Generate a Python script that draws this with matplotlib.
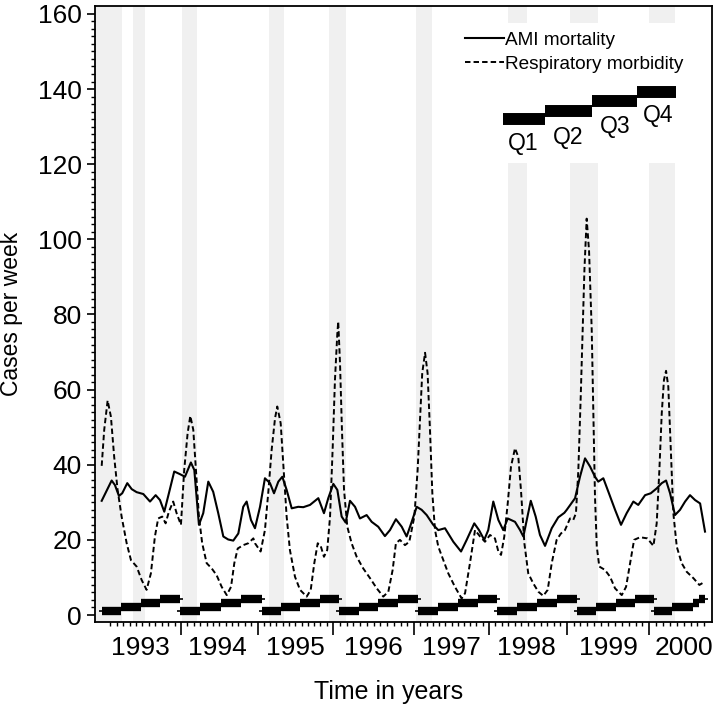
import matplotlib
matplotlib.use('Agg')
import matplotlib.pyplot as plt
from matplotlib.patches import Rectangle
from matplotlib.transforms import blended_transform_factory
import numpy as np

plt.rcParams['font.family'] = ['Liberation Sans', 'DejaVu Sans']

# ---------------- data (x = week index from start of 1993) ----------------
ami_week = [0.5, 7.2, 9.4, 12.1, 14.3, 17.7, 20.7, 24.0, 28.5, 33.0, 36.8, 39.7, 42.6, 45.7,
            49.3, 53.1, 56.5, 60.5, 62.8, 65.9, 68.8, 72.2, 75.5, 78.9, 82.3, 85.6, 89.0,
            92.4, 95.7, 98.0, 100.9, 103.6, 107.0, 110.3, 113.7, 116.4, 119.3, 122.0,
            124.9, 128.3, 132.7, 136.1, 140.6, 146.2, 150.0, 152.9, 156.3, 159.0, 161.9,
            164.6, 167.5, 170.9, 174.2, 178.7, 182.1, 186.5, 191.0, 194.4, 198.4, 202.3,
            205.6, 207.9, 212.4, 215.7, 219.1, 223.5, 226.9, 231.4, 237.0, 242.2, 246.0,
            251.1, 254.3, 257.8, 260.5, 263.9, 267.3, 270.6, 273.6, 278.5, 281.9, 284.1,
            289.1, 292.4, 295.3, 298.7, 303.2, 307.6, 311.7, 313.3, 318.9, 322.2, 325.6,
            329.0, 332.3, 334.5, 337.9, 341.3, 345.8, 349.8, 353.6, 358.1, 361.4, 366.0,
            369.8, 373.8, 377.2, 380.1, 382.8, 386.1, 389.5, 392.9, 396.2, 399.6, 403.0,
            406.3]
ami_cases = [30.4, 35.8, 34.6, 31.7, 32.4, 35.1, 33.5, 32.7, 32.2, 30.2, 31.9, 30.6, 27.5, 32.4,
             38.2, 37.5, 36.8, 40.6, 38.6, 24.0, 27.1, 35.5, 32.8, 27.1, 20.9, 20.1, 19.8,
             21.7, 28.8, 30.2, 25.3, 23.1, 28.8, 36.4, 35.1, 32.4, 35.5, 36.8,
             33.3, 28.4, 28.8, 28.7, 29.3, 31.1, 27.1, 31.1, 34.9, 33.3, 26.2,
             24.6, 30.4, 28.8, 25.7, 26.6, 24.8, 23.5, 21.0, 22.6, 25.5, 23.5,
             20.9, 23.5, 28.8, 28.0, 26.6, 24.0, 22.6, 23.1, 19.5, 16.9, 20.0,
             24.4, 22.6, 20.0, 22.6, 30.2, 25.3, 22.6, 25.7, 24.8, 22.6, 20.9,
             30.4, 26.2, 21.3, 18.4, 23.1, 26.0, 27.2, 28.0, 31.1, 36.8, 41.7,
             39.5, 36.8, 35.5, 36.4, 32.8, 28.0, 24.0, 27.1, 30.2, 29.3, 31.9,
             32.4, 33.7, 35.1, 35.8, 32.4, 26.6, 28.0, 30.2, 31.9, 30.6, 29.7,
             22.2]

resp_week = [0.5, 2.2, 4.5, 6.7, 8.9, 11.2, 13.9, 17.3, 20.2, 24.0, 27.4, 30.7, 33.6, 36.3,
             38.5, 41.2, 43.5, 45.7, 48.6, 50.9, 53.8, 56.0, 58.3, 60.1, 62.1, 63.9, 65.9,
             68.1, 71.1, 74.5, 77.8, 81.2, 84.6, 87.5, 89.7, 92.0, 95.7, 99.1, 102.5, 103.6,
             107.4, 110.3, 112.5, 114.8, 117.1, 118.6, 120.9, 122.6, 124.9, 127.1, 130.5,
             133.9, 138.4, 141.1, 143.5, 145.8, 147.8, 150.0, 152.2, 154.1, 155.9, 157.4,
             159.0, 159.6, 160.8, 162.1, 163.5, 165.7, 168.6, 172.0, 176.4, 181.0, 185.5,
             189.9, 193.3, 196.2, 198.4, 201.1, 204.5, 207.4, 210.8, 213.0, 214.6, 216.1,
             218.0, 219.7, 221.3, 222.9, 224.7, 226.9, 230.3, 233.6, 238.1, 242.6, 244.9,
             248.2, 251.6, 255.0, 258.3, 261.7, 265.0, 267.3, 269.1, 271.3, 273.6, 275.8,
             278.5, 280.7, 282.5, 284.8, 287.4, 290.8, 294.2, 297.5, 300.5, 303.2, 306.5,
             309.4, 312.1, 315.5, 317.7, 319.5, 321.1, 322.7, 324.0, 325.2, 326.7, 328.3,
             330.1, 331.2, 332.3, 333.5, 335.2, 339.0, 342.4, 345.8, 350.3, 353.2, 355.9,
             358.6, 362.6, 367.5, 371.6, 373.8, 375.6, 377.2, 378.7, 380.1, 381.6, 383.2,
             385.0, 387.3, 390.6, 394.0, 398.5, 402.5, 406.3]
resp_cases = [39.7, 49.3, 57.1, 52.8, 42.1, 33.3, 26.2, 19.1, 14.6, 12.9, 9.3, 6.7, 11.1, 20.9,
              25.7, 26.2, 24.4, 27.5, 30.2, 27.1, 24.0, 38.6, 48.4, 53.0, 49.3, 38.6, 26.2,
              19.1, 13.8, 12.4, 10.6, 7.5, 5.3, 7.5, 13.8, 17.7, 18.6, 19.1, 20.4, 19.1,
              16.9, 22.6, 32.4, 43.9, 52.4, 55.5, 51.0, 40.4, 26.2, 17.3, 10.2,
              6.7, 4.9, 6.7, 13.8, 19.1, 18.4, 15.5, 17.3, 26.2, 44.8, 62.6,
              75.0, 78.1, 67.0, 49.3, 33.3, 23.5, 19.1, 15.5, 12.4, 9.8, 7.1,
              4.9, 6.2, 12.0, 19.1, 20.0, 18.6, 19.5, 26.2, 38.6, 51.9, 64.4,
              69.8, 64.4, 49.3, 32.4, 22.6, 18.2, 14.6, 11.1, 7.5, 4.4, 5.8,
              13.8, 22.6, 20.9, 19.5, 21.3, 20.4, 16.9, 16.0, 20.9, 29.7, 39.5,
              44.4, 42.1, 33.3, 19.1, 11.1, 8.4, 6.2, 5.1, 6.7, 13.8, 20.0,
              21.7, 22.6, 25.7, 25.3, 27.1, 38.6, 58.1, 75.9, 92.0, 105.5, 97.0,
              75.9, 53.7, 31.5, 18.2, 12.9, 12.0, 10.2, 7.1, 5.3, 7.5, 13.8,
              20.0, 20.7, 20.4, 18.4, 24.4, 38.6, 53.7, 62.6, 65.0, 60.8, 44.8,
              27.1, 18.2, 13.8, 11.5, 9.8, 8.0, 8.9]

# shaded periods (week index)
band_start = [-4.0, 21.5, 54.5, 113.0, 153.4, 211.9, 273.8, 315.5, 368.6]
band_end = [14.1, 29.6, 64.6, 123.1, 164.8, 222.7, 286.6, 334.5, 386.1]

# year axis
year_boundaries = [53.8, 105.4, 156.1, 210.6, 261.0, 313.3, 368.8]
year_label_pos = [26.2, 78.4, 130.5, 183.0, 235.9, 286.4, 341.1, 392.2]
year_labels = ['1993', '1994', '1995', '1996', '1997', '1998', '1999', '2000']

# quarter indicator bars
quarter_levels = [1.0, 2.1, 3.2, 4.3]
group_edges = [0.5, 53.1, 108.3, 160.1, 213.2, 266.7, 320.2, 372.0]
last_group_edges = [372.0, 384.1, 398.3, 402.5, 406.3]

# quarter key
key_edges = [270.4, 299.0, 330.3, 360.6, 386.8]
key_levels = [132.0, 134.2, 136.8, 139.2]
key_labels = ['Q1', 'Q2', 'Q3', 'Q4']
key_label_x = [283.9, 314.2, 345.8, 374.7]
key_label_y = [125.6, 127.0, 130.0, 133.0]

# ---------------- figure ----------------
fig = plt.figure(figsize=(7.2, 7.06), dpi=100)
ax = fig.add_axes([95/720, 1 - 622/706, 617/720, 616/706])

ax.set_xlim(-4.0, 411.0)
ax.set_ylim(-1.86, 162.1)

for s, e in zip(band_start, band_end):
    ax.axvspan(s, e, color='#f0f0f0', lw=0, zorder=0)

# white box behind the quarter key
ax.add_patch(Rectangle((262, 120.3), 143, 22.1, facecolor='white', edgecolor='none', zorder=1))

ax.plot(ami_week, ami_cases, color='black', lw=1.5, zorder=3, label='AMI mortality')
ax.plot(resp_week, resp_cases, color='black', lw=1.4, ls=(0, (2.8, 1.6)), zorder=3,
        label='Respiratory morbidity')

# quarter bars at the bottom
for i in range(len(group_edges)):
    if i < len(group_edges) - 1:
        edges = np.linspace(group_edges[i], group_edges[i + 1], 5)
    else:
        edges = np.array(last_group_edges)
    lc = ax.hlines(quarter_levels, edges[:-1], edges[1:], colors='black', lw=6.0, zorder=4)
    lc.set_capstyle('butt')
    ax.hlines([quarter_levels[0]], edges[0] - 2, edges[0], colors='black', lw=1.2, zorder=4)
    ax.hlines([quarter_levels[-1]], edges[-1], edges[-1] + 2, colors='black', lw=1.2, zorder=4)

# quarter key
lc = ax.hlines(key_levels, key_edges[:-1], key_edges[1:], colors='black', lw=8.6, zorder=4)
lc.set_capstyle('butt')
for x, y, t in zip(key_label_x, key_label_y, key_labels):
    ax.text(x, y, t, fontsize=16.5, ha='center', va='center', zorder=5)

# legend
leg = ax.legend(loc='upper left', bbox_to_anchor=(0.585, 0.973), fontsize=13.7,
                frameon=True, fancybox=False, edgecolor='none', facecolor='white',
                framealpha=1, borderpad=0.45, borderaxespad=0, labelspacing=0.38,
                handlelength=2.05, handletextpad=0.1)

# y axis
ax.set_yticks(np.arange(0, 161, 20))
ax.set_yticks(np.arange(0, 162, 2), minor=True)
ax.tick_params(axis='y', which='major', length=6, width=1.2, labelsize=19, pad=3.5)
ax.tick_params(axis='y', which='minor', length=3, width=1.0)

# x axis
ax.set_xticks(year_boundaries)
ax.set_xticklabels([])
full_bounds = [2.0] + year_boundaries + [424.3]
minor = []
for a, b in zip(full_bounds[:-1], full_bounds[1:]):
    minor.extend(np.linspace(a, b, 13)[1:-1])
minor = [m for m in minor if m < 410]
ax.set_xticks(minor, minor=True)
ax.tick_params(axis='x', which='major', length=9, width=1.2)
ax.tick_params(axis='x', which='minor', length=3, width=1.0)

trans = blended_transform_factory(ax.transData, ax.transAxes)
for x, t in zip(year_label_pos, year_labels):
    ax.text(x, -0.0536, t, transform=trans, ha='center', va='baseline', fontsize=19)

for sp in ax.spines.values():
    sp.set_linewidth(1.3)

ax.set_ylabel('Cases per week', fontsize=16.5)
ax.yaxis.set_label_coords(-0.117, 0.5)
ax.set_xlabel('Time in years', fontsize=18)
ax.xaxis.set_label_coords(0.475, -0.094)

fig.savefig('out.png', dpi=100)
